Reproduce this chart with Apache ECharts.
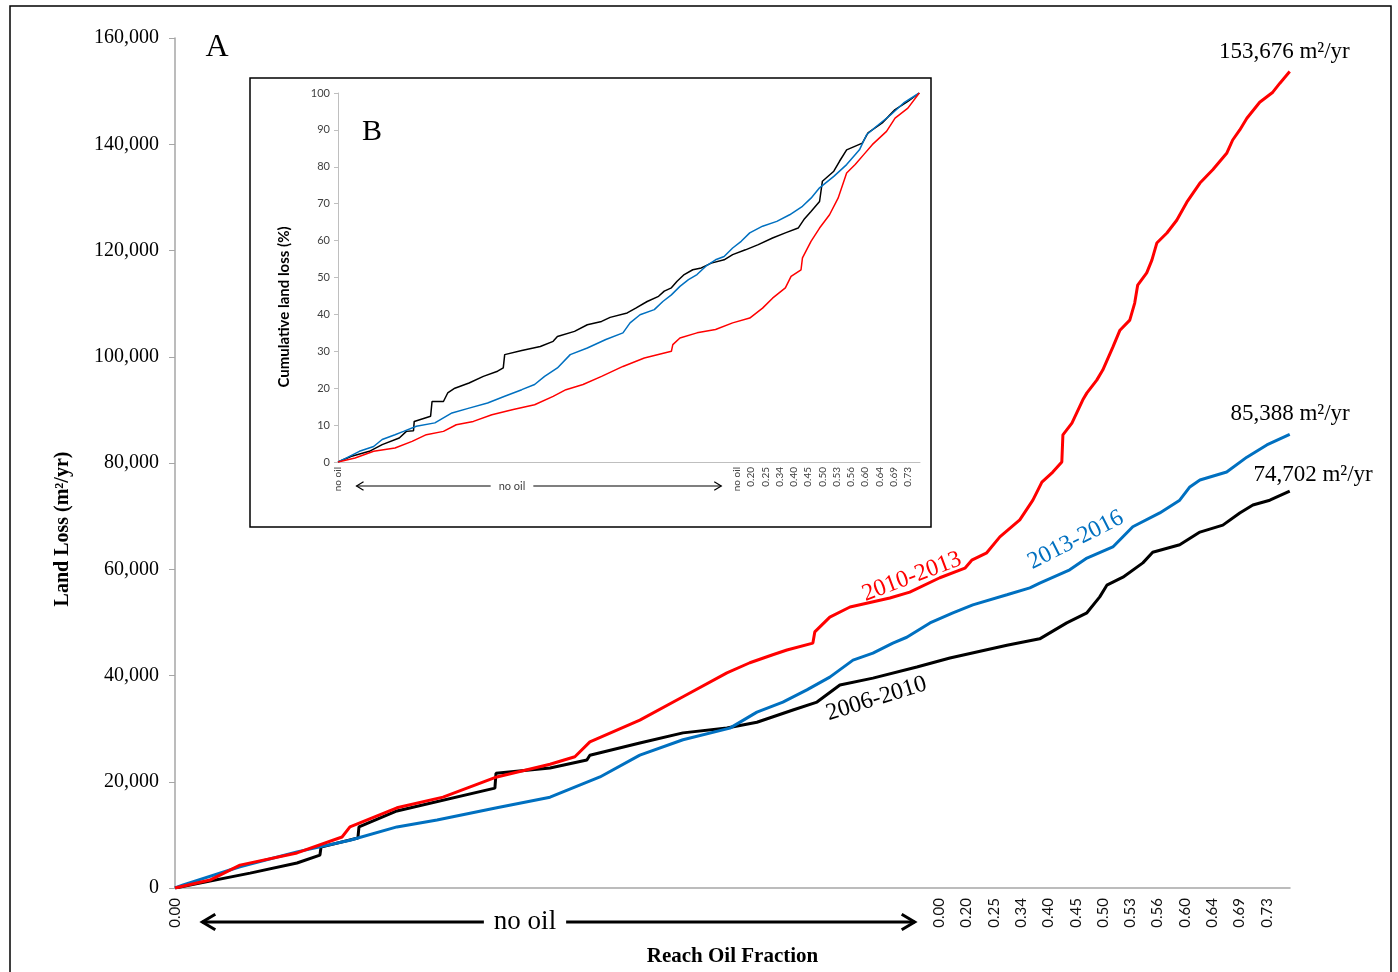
<!DOCTYPE html>
<html>
<head>
<meta charset="utf-8">
<script src="https://cdn.jsdelivr.net/npm/echarts@6/dist/echarts.min.js"></script>
<style>
  html, body { margin: 0; padding: 0; background: #fff; }
  #chart { width: 1398px; height: 972px; }
</style>
</head>
<body>
<div id="chart"></div>
<script>
// x = position of the reach in the sorted list, one unit per label slot
var tickPos = [0, 28, 29, 30, 31, 32, 33, 34, 35, 36, 37, 38, 39, 40];
var mainTickLabels = ['0.00', '0.00', '0.20', '0.25', '0.34', '0.40', '0.45', '0.50', '0.53', '0.56', '0.60', '0.64', '0.69', '0.73'];
var insetTickLabels = ['no oil', 'no oil', '0.20', '0.25', '0.34', '0.40', '0.45', '0.50', '0.53', '0.56', '0.60', '0.64', '0.69', '0.73'];

// A: land loss (m2/yr), cumulative
var loss2006 = [[0, 0], [2.75, 2800], [4.47, 4700], [5.31, 6200], [5.35, 7700], [6.7, 9400], [6.74, 11500],
  [8.13, 14500], [11.72, 18800], [11.76, 21600], [13.74, 22600], [15.09, 24100], [15.2, 25000], [17.03, 27300],
  [18.61, 29200], [20.22, 30100], [21.32, 31200], [22.64, 33500], [23.52, 35000], [24.36, 38200], [25.57, 39500],
  [27.18, 41600], [28.39, 43300], [30.48, 45700], [31.68, 46900], [32.67, 49900], [33.41, 51800], [33.88, 54800],
  [34.14, 57000], [34.73, 58500], [35.46, 61200], [35.82, 63200], [36.81, 64600], [37.55, 67000], [38.39, 68300],
  [39.01, 70600], [39.49, 72100], [40.11, 73000], [40.84, 74702]];
var loss2010 = [[0, 0], [1.28, 1500], [2.38, 4300], [4.47, 6600], [6.12, 9600], [6.41, 11500], [8.13, 15100],
  [9.82, 17100], [11.79, 20900], [13.74, 23300], [14.65, 24700], [15.2, 27500], [17.03, 31600], [18.61, 36000],
  [20.22, 40500], [21.06, 42400], [21.9, 43900], [22.42, 44800], [23.37, 46100], [23.44, 48200], [23.99, 51000],
  [24.73, 52900], [26.19, 54600], [26.92, 55700], [28.02, 58400], [28.94, 60200], [29.19, 61700], [29.74, 63100],
  [30.22, 66100], [30.95, 69300], [31.43, 73000], [31.76, 76400], [32.16, 78300], [32.49, 80200], [32.53, 85300],
  [32.86, 87500], [33.26, 91900], [33.41, 93200], [33.77, 95600], [33.99, 97500], [34.36, 101800], [34.62, 105000],
  [34.98, 106900], [35.16, 110100], [35.27, 113500], [35.6, 115800], [35.79, 118200], [35.97, 121400],
  [36.34, 123300], [36.7, 125700], [37.07, 129100], [37.55, 132700], [38.02, 135200], [38.53, 138300],
  [38.75, 140800], [39.01, 142700], [39.27, 144900], [39.74, 147900], [40.22, 149800], [40.48, 151500],
  [40.84, 153676]];
var loss2013 = [[0, 0], [0.3, 600], [2.38, 4000], [4.47, 6800], [6.41, 9000], [8.13, 11500], [9.6, 12800],
  [11.79, 15100], [13.74, 17100], [15.57, 20900], [17.03, 25000], [18.61, 27900], [20.33, 30100], [21.32, 33100],
  [22.27, 35000], [23.15, 37300], [23.99, 39700], [24.84, 42900], [25.57, 44200], [26.3, 46100], [26.81, 47200],
  [27.66, 49900], [28.5, 51800], [29.23, 53300], [30.48, 55200], [31.32, 56500], [31.68, 57400], [32.78, 59900],
  [33.41, 62100], [34.36, 64200], [35.09, 68000], [36.08, 70600], [36.81, 73000], [37.18, 75500], [37.55, 76800],
  [38.53, 78300], [39.27, 81100], [40.0, 83400], [40.84, 85388]];

// B: cumulative land loss (%)
var pct2006 = [[0, 0], [0.9, 1.5], [2.2, 2.9], [3.1, 4.7], [4.3, 6.5], [4.8, 8.3], [5.3, 8.5], [5.35, 11],
  [6.5, 12.4], [6.6, 16.4], [7.4, 16.4], [7.7, 18.7], [8.2, 20], [9.2, 21.4], [10.2, 23.2], [11.2, 24.6],
  [11.6, 25.5], [11.7, 29.1], [12.9, 30.2], [14.2, 31.3], [15.1, 32.7], [15.4, 34], [16.6, 35.4], [17.5, 37.2],
  [18.5, 38.1], [19.1, 39.2], [20.3, 40.4], [20.9, 41.7], [21.7, 43.5], [22.5, 44.9], [22.9, 46.3], [23.4, 47.2],
  [23.8, 49], [24.3, 50.8], [24.9, 52.1], [25.5, 52.6], [26.2, 53.9], [27.1, 54.8], [27.7, 56.2], [28.6, 57.5],
  [29.5, 58.9], [30.5, 60.7], [31.4, 62.1], [32.3, 63.4], [32.7, 65.7], [33.2, 67.9], [33.8, 70.6], [34, 76.1],
  [34.8, 78.8], [35.2, 81.5], [35.7, 84.6], [36.8, 86.4], [37.2, 89.2], [38.2, 91.9], [39.1, 95.5], [40, 97.7],
  [40.8, 100]];
var pct2010 = [[0, 0], [1.2, 1.1], [2.5, 2.9], [4, 3.8], [5.2, 5.6], [6.2, 7.4], [7.4, 8.3], [8.3, 10.1],
  [9.5, 11], [10.8, 12.8], [12.3, 14.2], [13.8, 15.5], [15.1, 17.8], [16, 19.6], [17.2, 21], [18.5, 23.2],
  [20, 25.9], [21.5, 28.2], [23.4, 30], [23.5, 31.8], [24, 33.6], [25.2, 35], [26.5, 35.9], [27.7, 37.7],
  [28.9, 39], [29.8, 41.7], [30.5, 44.4], [31.4, 47.2], [31.8, 50.3], [32.5, 52.1], [32.6, 55.3], [33.2, 59.8],
  [33.8, 63.4], [34.5, 67], [35.1, 71.5], [35.7, 78.3], [36.3, 80.6], [36.9, 83.3], [37.5, 86], [38.5, 89.6],
  [39.1, 93.2], [40, 95.9], [40.8, 100]];
var pct2013 = [[0, 0], [0.6, 1.1], [1.5, 2.9], [2.5, 4.2], [3.1, 6.1], [4, 7.4], [4.6, 8.3], [5.5, 9.7],
  [6.8, 10.6], [8, 13.3], [9.2, 14.6], [10.5, 16], [11.7, 17.8], [12.9, 19.6], [13.8, 21], [14.5, 23.2],
  [15.4, 25.5], [16.3, 29.1], [17.5, 30.9], [18.8, 33.2], [20, 35], [20.5, 37.7], [21.2, 39.9], [22.2, 41.3],
  [22.8, 43.5], [23.4, 45.3], [24, 47.6], [24.6, 49.4], [25.2, 50.8], [25.8, 53], [26.5, 54.8], [27.1, 55.7],
  [27.7, 58], [28.3, 59.8], [28.9, 62.1], [29.8, 63.9], [30.8, 65.2], [31.7, 67], [32.6, 69.3], [33.2, 71.5],
  [33.8, 74.3], [34.8, 77.4], [35.7, 80.6], [36.6, 84.6], [37.1, 88.7], [37.8, 91], [38.8, 94.1], [39.7, 97.3],
  [40.8, 100]];

var RED = '#ff0000', BLUE = '#0070c0', BLACK = '#000000', AXIS = '#a6a6a6';
var serif = '"Liberation Serif", "Times New Roman", serif';
var sans = 'Lato, "Open Sans", sans-serif';

function tickFormatter(labels) {
  return function (v) {
    var i = tickPos.indexOf(v);
    return i < 0 ? '' : labels[i];
  };
}

function lineSeries(data, color, width, idx) {
  return {
    type: 'line', data: data, xAxisIndex: idx, yAxisIndex: idx,
    showSymbol: false, symbol: 'none', silent: true, animation: false,
    lineStyle: { color: color, width: width }
  };
}

var chart = echarts.init(document.getElementById('chart'));

chart.setOption({
  backgroundColor: '#fff',
  animation: false,
  grid: [
    { left: 175, top: 38, right: 108, bottom: 84 },   // A
    { left: 338, top: 93, right: 478, bottom: 510 }   // B (inset)
  ],
  xAxis: [
    {
      type: 'value', gridIndex: 0, min: 0, max: 40.85, interval: 1,
      axisLine: { lineStyle: { color: AXIS, width: 1.5 } },
      axisTick: { show: false }, splitLine: { show: false },
      axisLabel: { rotate: 90, margin: 10, fontFamily: sans, fontSize: 15, color: '#111',
        showMaxLabel: false, formatter: tickFormatter(mainTickLabels) },
      name: 'Reach Oil Fraction', nameLocation: 'middle', nameGap: 58,
      nameTextStyle: { fontFamily: serif, fontWeight: 'bold', fontSize: 21, color: '#000' }
    },
    {
      type: 'value', gridIndex: 1, min: 0, max: 40.85, interval: 1,
      axisLine: { lineStyle: { color: '#bfbfbf', width: 1 } },
      axisTick: { show: false }, splitLine: { show: false },
      axisLabel: { rotate: 90, margin: 5, fontFamily: sans, fontSize: 10, color: '#404040',
        showMaxLabel: false, formatter: tickFormatter(insetTickLabels) }
    }
  ],
  yAxis: [
    {
      type: 'value', gridIndex: 0, min: 0, max: 160000, interval: 20000,
      axisLine: { show: true, lineStyle: { color: AXIS, width: 1.5 } },
      axisTick: { show: true, length: 6, lineStyle: { color: AXIS } },
      splitLine: { show: false },
      axisLabel: { margin: 16, fontFamily: serif, fontSize: 20, color: '#000',
        formatter: function (v) { return v.toLocaleString('en-US'); } }
    },
    {
      type: 'value', gridIndex: 1, min: 0, max: 100, interval: 10,
      axisLine: { show: true, lineStyle: { color: '#bfbfbf', width: 1 } },
      axisTick: { show: true, length: 4, lineStyle: { color: '#bfbfbf' } },
      splitLine: { show: false },
      axisLabel: { margin: 8, fontFamily: sans, fontSize: 11, color: '#404040' }
    }
  ],
  series: [
    lineSeries(loss2006, BLACK, 3, 0),
    lineSeries(loss2013, BLUE, 3, 0),
    lineSeries(loss2010, RED, 3, 0),
    lineSeries(pct2006, BLACK, 1.5, 1),
    lineSeries(pct2013, BLUE, 1.5, 1),
    lineSeries(pct2010, RED, 1.5, 1)
  ]
});

// annotations, placed from data coordinates
function px(gridIndex, pt) { return chart.convertToPixel({ gridIndex: gridIndex }, pt); }

function arrow(x1, x2, y, head, lw) {
  return [
    { type: 'line', shape: { x1: x1, y1: y, x2: x2, y2: y }, style: { stroke: '#000', lineWidth: lw } },
    { type: 'polyline', shape: { points: [[x1 + head, y - head * 0.6], [x1, y], [x1 + head, y + head * 0.6]] },
      style: { stroke: '#000', lineWidth: lw, fill: null } },
    { type: 'polyline', shape: { points: [[x2 - head, y - head * 0.6], [x2, y], [x2 - head, y + head * 0.6]] },
      style: { stroke: '#000', lineWidth: lw, fill: null } }
  ];
}

function text(x, y, str, font, color, rot, align) {
  return {
    type: 'text', x: x, y: y, rotation: rot || 0,
    style: { text: str, font: font, fill: color || '#000', align: align || 'center', verticalAlign: 'middle' }
  };
}

var g = [];
// outer frame and inset frame
g.push({ type: 'rect', shape: { x: 10, y: 6, width: 1381, height: 980 }, style: { stroke: '#000', lineWidth: 1.5, fill: null } });
g.push({ type: 'rect', shape: { x: 250, y: 78, width: 681, height: 449 }, style: { stroke: '#000', lineWidth: 1.5, fill: null } });

g.push(text(217, 48, 'A', '32px ' + serif));
g.push(text(372, 132, 'B', '30px ' + serif));

// axis names placed by hand
g.push(text(63, 529, 'Land Loss (m²/yr)', 'bold 20px ' + serif, '#000', Math.PI / 2));
g.push(text(284, 307, 'Cumulative land loss (%)', 'bold 15px ' + sans, '#000', Math.PI / 2));

// "no oil" arrows
var a1 = px(0, [1, 0])[0], a2 = px(0, [27.1, 0])[0];
g = g.concat(arrow(a1, a2, 922, 13, 3));
g.push({ type: 'text', x: 525, y: 922,
  style: { text: 'no oil', font: '27px ' + serif, fill: '#000', align: 'center', verticalAlign: 'middle',
    backgroundColor: '#fff', padding: [0, 10] } });
var b1 = px(1, [1.3, 0])[0], b2 = px(1, [26.9, 0])[0];
g = g.concat(arrow(b1, b2, 486, 7, 1.2));
g.push({ type: 'text', x: 512, y: 486,
  style: { text: 'no oil', font: '11px ' + sans, fill: '#404040', align: 'center', verticalAlign: 'middle',
    backgroundColor: '#fff', padding: [0, 8] } });

// series names along the lines
var p;
p = px(0, [27.0, 58600]); g.push(text(p[0], p[1], '2010-2013', '24px ' + serif, RED, 0.36));
p = px(0, [33.0, 65500]); g.push(text(p[0], p[1], '2013-2016', '24px ' + serif, BLUE, 0.47));
p = px(0, [25.7, 35600]); g.push(text(p[0], p[1], '2006-2010', '24px ' + serif, BLACK, 0.3));

// totals at line ends
p = px(0, loss2010[loss2010.length - 1]); g.push(text(p[0] + 60, p[1] - 20, '153,676 m²/yr', '23px ' + serif, '#000', 0, 'right'));
p = px(0, loss2013[loss2013.length - 1]); g.push(text(p[0] + 60, p[1] - 20, '85,388 m²/yr', '23px ' + serif, '#000', 0, 'right'));
p = px(0, loss2006[loss2006.length - 1]); g.push(text(p[0] + 83, p[1] - 16, '74,702 m²/yr', '23px ' + serif, '#000', 0, 'right'));

chart.setOption({ graphic: g });
</script>
</body>
</html>
